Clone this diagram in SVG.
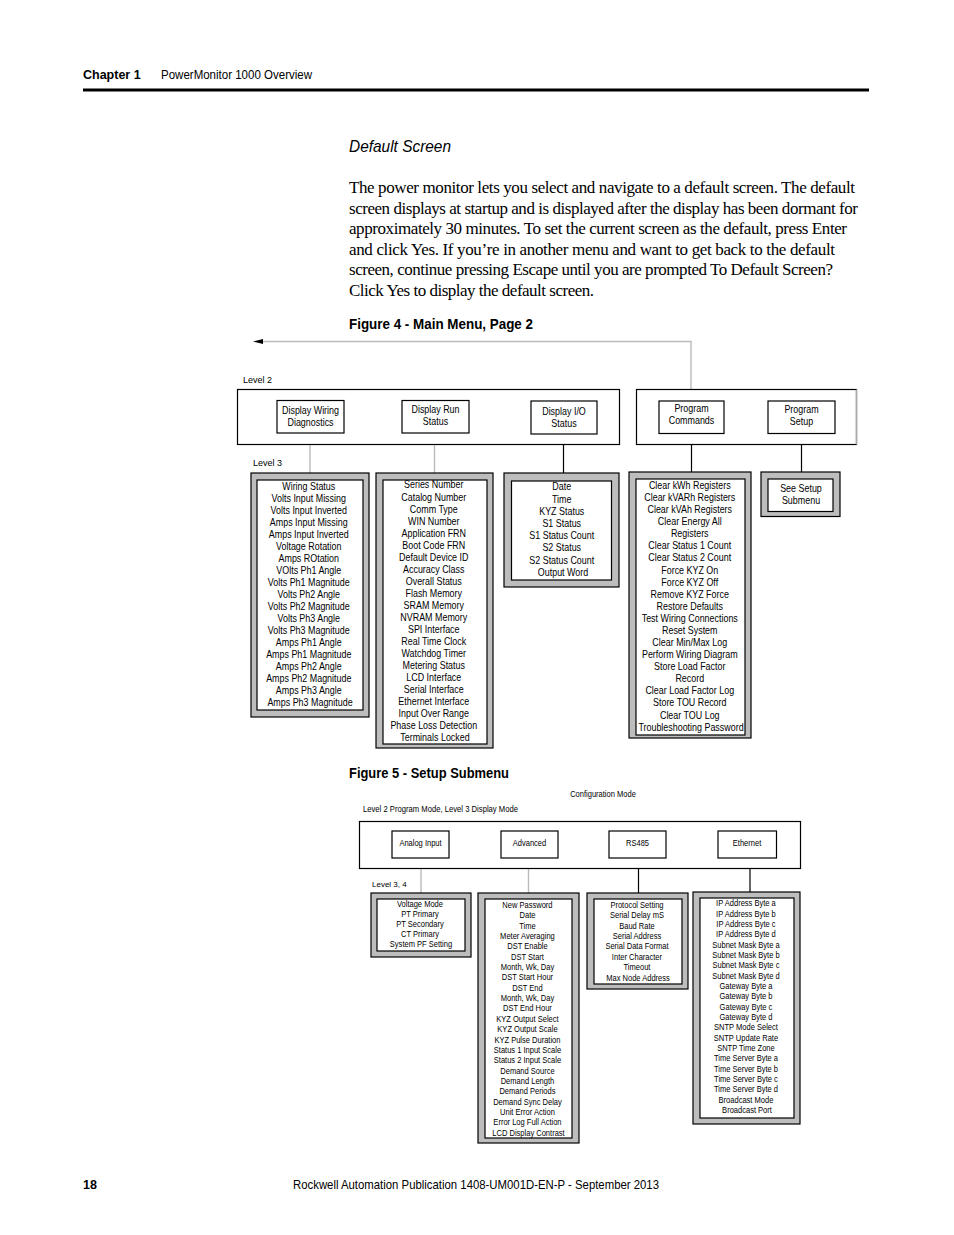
<svg xmlns="http://www.w3.org/2000/svg" width="954" height="1235" viewBox="0 0 954 1235">
<defs>
<style>
.cond{font-family:"Liberation Sans Narrow","Liberation Sans",Arial,sans-serif}
.hdr{font-size:12.5px;fill:#000}
.b{font-weight:bold}
.body{font-family:"Liberation Serif","Times New Roman",serif;font-size:17px;fill:#000}
.it{font-family:"Liberation Sans",Arial,sans-serif;font-style:italic;font-size:17px}
.fig{font-size:14px;font-weight:bold}
.lab{font-size:9px}
.t9{font-size:10.5px;text-anchor:middle}
.t7{font-size:8.2px;text-anchor:middle}
.big{fill:#fff;stroke:#000;stroke-width:1.2}
.box{fill:#fff;stroke:#000;stroke-width:1.2}
.outer{fill:#bdbdbd;stroke:#000;stroke-width:1.2}
.inner{fill:#fff;stroke:#000;stroke-width:1.2}
.ln{stroke:#000;stroke-width:1.2;fill:none}
.gl{stroke:#bbb;stroke-width:1.4;fill:none}
</style>
<marker id="ah" viewBox="0 0 10 10" refX="9" refY="5" markerWidth="8" markerHeight="6" orient="auto-start-reverse" markerUnits="userSpaceOnUse">
<path d="M0,2 L10,5 L0,8 z" fill="#000"/>
</marker>
</defs>
<rect width="954" height="1235" fill="#fff"/>

<!-- page header -->
<text class="cond hdr b" x="83" y="78.5">Chapter 1</text>
<text class="cond hdr" x="161" y="78.5" textLength="151" lengthAdjust="spacingAndGlyphs">PowerMonitor 1000 Overview</text>
<rect x="83" y="88.5" width="786" height="3" fill="#000"/>

<text class="cond it" x="349" y="152" textLength="102" lengthAdjust="spacingAndGlyphs">Default Screen</text>
<text class="body">
<tspan x="349" y="193" textLength="506" lengthAdjust="spacing">The power monitor lets you select and navigate to a default screen. The default</tspan>
<tspan x="349" y="213.5" textLength="509" lengthAdjust="spacing">screen displays at startup and is displayed after the display has been dormant for</tspan>
<tspan x="349" y="234" textLength="498" lengthAdjust="spacing">approximately 30 minutes. To set the current screen as the default, press Enter</tspan>
<tspan x="349" y="254.5" textLength="486" lengthAdjust="spacing">and click Yes. If you’re in another menu and want to get back to the default</tspan>
<tspan x="349" y="275" textLength="484" lengthAdjust="spacing">screen, continue pressing Escape until you are prompted To Default Screen?</tspan>
<tspan x="349" y="295.5" textLength="245" lengthAdjust="spacing">Click Yes to display the default screen.</tspan>
</text>

<text class="cond fig" x="349" y="329" textLength="184" lengthAdjust="spacingAndGlyphs">Figure 4 - Main Menu, Page 2</text>

<!-- Figure 4 connectors -->
<g id="connectors-fig4">
<polyline class="gl" points="691,401 691,341.5 262,341.5"/>
<path d="M253,341.5 L263,339 L263,344 z" fill="#000"/>
<line class="ln" x1="277" y1="417" x2="253" y2="417" marker-end="url(#ah)"/>
<line class="ln" x1="344" y1="417" x2="402" y2="417"/>
<line class="ln" x1="469" y1="417" x2="531" y2="417"/>
<line class="ln" x1="724" y1="417.5" x2="768" y2="417.5"/>
<line class="gl" x1="310" y1="433" x2="310" y2="480"/>
<line class="gl" x1="434.5" y1="433" x2="434.5" y2="480"/>
<line class="ln" x1="563.5" y1="434" x2="563.5" y2="481"/>
<line class="ln" x1="691.5" y1="433" x2="691.5" y2="479"/>
<line class="ln" x1="801.5" y1="433" x2="801.5" y2="479"/>
</g>

<text class="cond lab" x="243" y="383">Level 2</text>
<g id="level2-display">
<rect class="big" x="237.5" y="389.5" width="382" height="55"/>
</g>
<g id="level2-program">
<rect class="big" x="636.5" y="389.5" width="220" height="55"/>
<line x1="856.5" y1="389.5" x2="856.5" y2="444.5" stroke="#aaa" stroke-width="1.4"/>
</g>

<g id="display-wiring-diagnostics">
<rect class="box" x="277" y="400.5" width="67" height="32.5"/>
<text class="cond t9" transform="translate(310.5 0) scale(0.85 1)"><tspan x="0" y="413.8">Display Wiring</tspan><tspan x="0" y="425.8">Diagnostics</tspan></text>
</g>
<g id="display-run-status">
<rect class="box" x="402" y="400.5" width="67" height="32.5"/>
<text class="cond t9" transform="translate(435.5 0) scale(0.85 1)"><tspan x="0" y="412.8">Display Run</tspan><tspan x="0" y="424.8">Status</tspan></text>
</g>
<g id="display-io-status">
<rect class="box" x="531" y="401" width="66" height="33"/>
<text class="cond t9" transform="translate(564 0) scale(0.85 1)"><tspan x="0" y="414.8">Display I/O</tspan><tspan x="0" y="426.8">Status</tspan></text>
</g>
<g id="program-commands">
<rect class="box" x="659" y="401" width="65" height="32.5"/>
<text class="cond t9" transform="translate(691.5 0) scale(0.85 1)"><tspan x="0" y="411.8">Program</tspan><tspan x="0" y="423.8">Commands</tspan></text>
</g>
<g id="program-setup">
<rect class="box" x="768" y="401" width="67" height="32.5"/>
<text class="cond t9" transform="translate(801.5 0) scale(0.85 1)"><tspan x="0" y="412.8">Program</tspan><tspan x="0" y="424.8">Setup</tspan></text>
</g>

<text class="cond lab" x="253" y="466">Level 3</text>

<g id="wiring-list">
<rect class="outer" x="251" y="473" width="118" height="244"/>
<rect class="inner" x="257" y="480" width="106" height="230"/>
<text class="cond t9" transform="translate(310 0) scale(0.85 1)">
<tspan x="0" y="490">Wiring Status</tspan>
<tspan x="0" dy="12">Volts Input Missing</tspan>
<tspan x="0" dy="12">Volts Input Inverted</tspan>
<tspan x="0" dy="12">Amps Input Missing</tspan>
<tspan x="0" dy="12">Amps Input Inverted</tspan>
<tspan x="0" dy="12">Voltage Rotation</tspan>
<tspan x="0" dy="12">Amps ROtation</tspan>
<tspan x="0" dy="12">VOlts Ph1 Angle</tspan>
<tspan x="0" dy="12">Volts Ph1 Magnitude</tspan>
<tspan x="0" dy="12">Volts Ph2 Angle</tspan>
<tspan x="0" dy="12">Volts Ph2 Magnitude</tspan>
<tspan x="0" dy="12">Volts Ph3 Angle</tspan>
<tspan x="0" dy="12">Volts Ph3 Magnitude</tspan>
<tspan x="0" dy="12">Amps Ph1 Angle</tspan>
<tspan x="0" dy="12">Amps Ph1 Magnitude</tspan>
<tspan x="0" dy="12">Amps Ph2 Angle</tspan>
<tspan x="0" dy="12">Amps Ph2 Magnitude</tspan>
<tspan x="0" dy="12">Amps Ph3 Angle</tspan>
<tspan x="0" dy="12">Amps Ph3 Magnitude</tspan>
</text>
</g>

<g id="run-status-list">
<rect class="outer" x="376" y="473" width="117" height="275"/>
<rect class="inner" x="383" y="480" width="104" height="264"/>
<text class="cond t9" transform="translate(435 0) scale(0.85 1)">
<tspan x="0" y="488.5">Series Number</tspan>
<tspan x="0" dy="12.02">Catalog Number</tspan>
<tspan x="0" dy="12.02">Comm Type</tspan>
<tspan x="0" dy="12.02">WIN Number</tspan>
<tspan x="0" dy="12.02">Application FRN</tspan>
<tspan x="0" dy="12.02">Boot Code FRN</tspan>
<tspan x="0" dy="12.02">Default Device ID</tspan>
<tspan x="0" dy="12.02">Accuracy Class</tspan>
<tspan x="0" dy="12.02">Overall Status</tspan>
<tspan x="0" dy="12.02">Flash Memory</tspan>
<tspan x="0" dy="12.02">SRAM Memory</tspan>
<tspan x="0" dy="12.02">NVRAM Memory</tspan>
<tspan x="0" dy="12.02">SPI Interface</tspan>
<tspan x="0" dy="12.02">Real Time Clock</tspan>
<tspan x="0" dy="12.02">Watchdog Timer</tspan>
<tspan x="0" dy="12.02">Metering Status</tspan>
<tspan x="0" dy="12.02">LCD Interface</tspan>
<tspan x="0" dy="12.02">Serial Interface</tspan>
<tspan x="0" dy="12.02">Ethernet Interface</tspan>
<tspan x="0" dy="12.02">Input Over Range</tspan>
<tspan x="0" dy="12.02">Phase Loss Detection</tspan>
<tspan x="0" dy="12.02">Terminals Locked</tspan>
</text>
</g>

<g id="io-status-list">
<rect class="outer" x="504" y="473" width="115" height="114"/>
<rect class="inner" x="511.5" y="481" width="100" height="99"/>
<text class="cond t9" transform="translate(563 0) scale(0.85 1)">
<tspan x="0" y="490.5">Date</tspan>
<tspan x="0" dy="12.2">Time</tspan>
<tspan x="0" dy="12.2">KYZ Status</tspan>
<tspan x="0" dy="12.2">S1 Status</tspan>
<tspan x="0" dy="12.2">S1 Status Count</tspan>
<tspan x="0" dy="12.2">S2 Status</tspan>
<tspan x="0" dy="12.2">S2 Status Count</tspan>
<tspan x="0" dy="12.2">Output Word</tspan>
</text>
</g>

<g id="commands-list">
<rect class="outer" x="629" y="472" width="122" height="266"/>
<rect class="inner" x="636" y="479" width="109" height="256"/>
<text class="cond t9" transform="translate(691 0) scale(0.85 1)">
<tspan x="0" y="489">Clear kWh Registers</tspan>
<tspan x="0" dy="12.08">Clear kVARh Registers</tspan>
<tspan x="0" dy="12.08">Clear kVAh Registers</tspan>
<tspan x="0" dy="12.08">Clear Energy All</tspan>
<tspan x="0" dy="12.08">Registers</tspan>
<tspan x="0" dy="12.08">Clear Status 1 Count</tspan>
<tspan x="0" dy="12.08">Clear Status 2 Count</tspan>
<tspan x="0" dy="12.08">Force KYZ On</tspan>
<tspan x="0" dy="12.08">Force KYZ Off</tspan>
<tspan x="0" dy="12.08">Remove KYZ Force</tspan>
<tspan x="0" dy="12.08">Restore Defaults</tspan>
<tspan x="0" dy="12.08">Test Wiring Connections</tspan>
<tspan x="0" dy="12.08">Reset System</tspan>
<tspan x="0" dy="12.08">Clear Min/Max Log</tspan>
<tspan x="0" dy="12.08">Perform Wiring Diagram</tspan>
<tspan x="0" dy="12.08">Store Load Factor</tspan>
<tspan x="0" dy="12.08">Record</tspan>
<tspan x="0" dy="12.08">Clear Load Factor Log</tspan>
<tspan x="0" dy="12.08">Store TOU Record</tspan>
<tspan x="0" dy="12.08">Clear TOU Log</tspan>
<tspan x="0" dy="12.08">Troubleshooting Password</tspan>
</text>
</g>

<g id="see-setup-submenu">
<rect class="outer" x="761" y="472" width="79" height="44.5"/>
<rect class="inner" x="768" y="479" width="65" height="32.5"/>
<text class="cond t9" transform="translate(801 0) scale(0.85 1)"><tspan x="0" y="492">See Setup</tspan><tspan x="0" dy="12.5">Submenu</tspan></text>
</g>

<!-- Figure 5 -->
<text class="cond fig" x="349" y="778" textLength="160" lengthAdjust="spacingAndGlyphs">Figure 5 - Setup Submenu</text>
<text class="cond t7" x="603" y="797.5" transform="translate(603 0) scale(0.92 1) translate(-603 0)">Configuration Mode</text>
<text class="cond" x="363" y="811.5" font-size="8.2" textLength="155" lengthAdjust="spacingAndGlyphs">Level 2 Program Mode, Level 3 Display Mode</text>

<g id="connectors-fig5">
<line class="ln" x1="449" y1="844.5" x2="501" y2="844.5"/>
<line class="ln" x1="558" y1="844.5" x2="609" y2="844.5"/>
<line class="ln" x1="666" y1="844.5" x2="718" y2="844.5"/>
<line class="gl" x1="421" y1="858" x2="421" y2="899"/>
<line class="gl" x1="528.5" y1="858" x2="528.5" y2="899"/>
<line class="ln" x1="638.5" y1="858" x2="638.5" y2="899"/>
<line class="ln" x1="750" y1="858" x2="750" y2="898"/>
</g>

<g id="config-mode">
<rect class="big" x="359.5" y="821.5" width="441" height="47"/>
</g>
<g id="analog-input">
<rect class="box" x="392" y="831" width="57" height="27"/>
<text class="cond t7" transform="translate(420.5 0) scale(0.92 1)" x="0" y="846">Analog Input</text>
</g>
<g id="advanced">
<rect class="box" x="501" y="831" width="57" height="27"/>
<text class="cond t7" transform="translate(529.5 0) scale(0.92 1)" x="0" y="846">Advanced</text>
</g>
<g id="rs485">
<rect class="box" x="609" y="831" width="57" height="27"/>
<text class="cond t7" transform="translate(637.5 0) scale(0.92 1)" x="0" y="846">RS485</text>
</g>
<g id="ethernet">
<rect class="box" x="718" y="831" width="58.5" height="27"/>
<text class="cond t7" transform="translate(747 0) scale(0.92 1)" x="0" y="846">Ethernet</text>
</g>

<text class="cond" x="372" y="887" font-size="8">Level 3, 4</text>

<g id="analog-list">
<rect class="outer" x="371" y="893" width="100" height="64"/>
<rect class="inner" x="377" y="899" width="88" height="52"/>
<text class="cond t7" transform="translate(421 0) scale(0.92 1)">
<tspan x="0" y="906.7">Voltage Mode</tspan>
<tspan x="0" dy="10.2">PT Primary</tspan>
<tspan x="0" dy="10.2">PT Secondary</tspan>
<tspan x="0" dy="10.2">CT Primary</tspan>
<tspan x="0" dy="10.2">System PF Setting</tspan>
</text>
</g>

<g id="advanced-list">
<rect class="outer" x="478" y="893" width="101" height="250"/>
<rect class="inner" x="485" y="899" width="87" height="239"/>
<text class="cond t7" transform="translate(528.5 0) scale(0.92 1)">
<tspan x="0" y="907.9">New Password</tspan>
<tspan x="0" dy="10.36">Date</tspan>
<tspan x="0" dy="10.36">Time</tspan>
<tspan x="0" dy="10.36">Meter Averaging</tspan>
<tspan x="0" dy="10.36">DST Enable</tspan>
<tspan x="0" dy="10.36">DST Start</tspan>
<tspan x="0" dy="10.36">Month, Wk, Day</tspan>
<tspan x="0" dy="10.36">DST Start Hour</tspan>
<tspan x="0" dy="10.36">DST End</tspan>
<tspan x="0" dy="10.36">Month, Wk, Day</tspan>
<tspan x="0" dy="10.36">DST End Hour</tspan>
<tspan x="0" dy="10.36">KYZ Output Select</tspan>
<tspan x="0" dy="10.36">KYZ Output Scale</tspan>
<tspan x="0" dy="10.36">KYZ Pulse Duration</tspan>
<tspan x="0" dy="10.36">Status 1 Input Scale</tspan>
<tspan x="0" dy="10.36">Status 2 Input Scale</tspan>
<tspan x="0" dy="10.36">Demand Source</tspan>
<tspan x="0" dy="10.36">Demand Length</tspan>
<tspan x="0" dy="10.36">Demand Periods</tspan>
<tspan x="0" dy="10.36">Demand Sync Delay</tspan>
<tspan x="0" dy="10.36">Unit Error Action</tspan>
<tspan x="0" dy="10.36">Error Log Full Action</tspan>
<tspan x="0" dy="10.36">LCD Display Contrast</tspan>
</text>
</g>

<g id="rs485-list">
<rect class="outer" x="587" y="893" width="101" height="96"/>
<rect class="inner" x="594" y="899" width="88" height="85"/>
<text class="cond t7" transform="translate(638 0) scale(0.92 1)">
<tspan x="0" y="907.9">Protocol Setting</tspan>
<tspan x="0" dy="10.4">Serial Delay mS</tspan>
<tspan x="0" dy="10.4">Baud Rate</tspan>
<tspan x="0" dy="10.4">Serial Address</tspan>
<tspan x="0" dy="10.4">Serial Data Format</tspan>
<tspan x="0" dy="10.4">Inter Character</tspan>
<tspan x="0" dy="10.4">Timeout</tspan>
<tspan x="0" dy="10.4">Max Node Address</tspan>
</text>
</g>

<g id="ethernet-list">
<rect class="outer" x="693" y="892" width="107" height="232"/>
<rect class="inner" x="700" y="898" width="94" height="220"/>
<text class="cond t7" transform="translate(747 0) scale(0.92 1)">
<tspan x="0" y="906.3">IP Address Byte a</tspan>
<tspan x="0" dy="10.33">IP Address Byte b</tspan>
<tspan x="0" dy="10.33">IP Address Byte c</tspan>
<tspan x="0" dy="10.33">IP Address Byte d</tspan>
<tspan x="0" dy="10.33">Subnet Mask Byte a</tspan>
<tspan x="0" dy="10.33">Subnet Mask Byte b</tspan>
<tspan x="0" dy="10.33">Subnet Mask Byte c</tspan>
<tspan x="0" dy="10.33">Subnet Mask Byte d</tspan>
<tspan x="0" dy="10.33">Gateway Byte a</tspan>
<tspan x="0" dy="10.33">Gateway Byte b</tspan>
<tspan x="0" dy="10.33">Gateway Byte c</tspan>
<tspan x="0" dy="10.33">Gateway Byte d</tspan>
<tspan x="0" dy="10.33">SNTP Mode Select</tspan>
<tspan x="0" dy="10.33">SNTP Update Rate</tspan>
<tspan x="0" dy="10.33">SNTP Time Zone</tspan>
<tspan x="0" dy="10.33">Time Server Byte a</tspan>
<tspan x="0" dy="10.33">Time Server Byte b</tspan>
<tspan x="0" dy="10.33">Time Server Byte c</tspan>
<tspan x="0" dy="10.33">Time Server Byte d</tspan>
<tspan x="0" dy="10.33">Broadcast Mode</tspan>
<tspan x="0" dy="10.33">Broadcast Port</tspan>
</text>
</g>

<!-- footer -->
<text class="cond hdr b" x="83" y="1189">18</text>
<text class="cond" x="293" y="1189" font-size="13.5" textLength="366" lengthAdjust="spacingAndGlyphs">Rockwell Automation Publication 1408-UM001D-EN-P - September 2013</text>
</svg>
